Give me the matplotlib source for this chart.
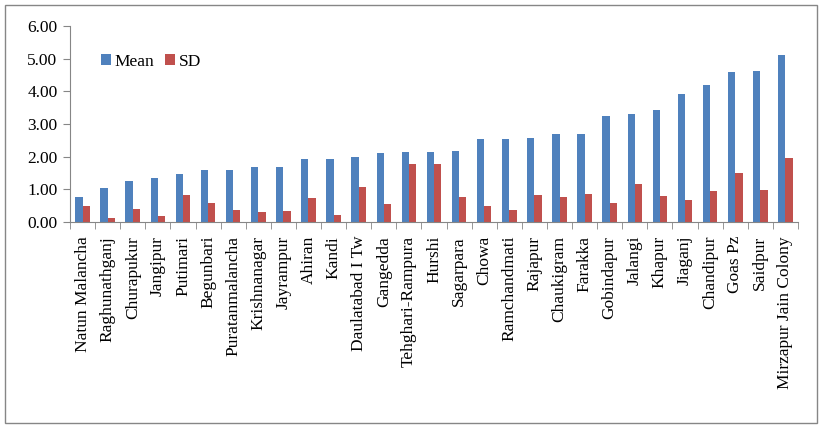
import matplotlib
matplotlib.use("Agg")
import matplotlib.pyplot as plt
import matplotlib.patches as patches
import numpy as np

plt.rcParams["font.family"] = ["Liberation Serif", "DejaVu Serif"]

places = [
    "Natun Malancha", "Raghunathganj", "Churapukur", "Jangipur", "Putimari",
    "Begunbari", "Puratanmalancha", "Krishnanagar", "Jayrampur", "Ahiran",
    "Kandi", "Daulatabad I Tw", "Gangedda", "Tehghari-Rampura", "Hurshi",
    "Sagarpara", "Chowa", "Ramchandmati", "Rajapur", "Chaukigram",
    "Farakka", "Gobindapur", "Jalangi", "Khapur", "Jiaganj",
    "Chandipur", "Goas Pz", "Saidpur", "Mirzapur Jain Colony",
]
mean_vals = [
    0.77, 1.04, 1.26, 1.35, 1.47, 1.59, 1.59, 1.68, 1.68, 1.93,
    1.93, 1.99, 2.11, 2.14, 2.14, 2.17, 2.54, 2.54, 2.57, 2.69,
    2.69, 3.24, 3.31, 3.43, 3.92, 4.19, 4.59, 4.62, 5.11,
]
sd_vals = [
    0.49, 0.12, 0.40, 0.18, 0.83, 0.58, 0.37, 0.31, 0.34, 0.73,
    0.21, 1.07, 0.55, 1.78, 1.78, 0.77, 0.49, 0.37, 0.83, 0.77,
    0.86, 0.58, 1.16, 0.80, 0.67, 0.95, 1.50, 0.98, 1.96,
]
y_ticks = [0, 1, 2, 3, 4, 5, 6]

W, H = 823, 430
fig = plt.figure(figsize=(W / 100, H / 100), dpi=100)
ax = fig.add_axes([70 / W, 1 - 222 / H, (798 - 70) / W, (222 - 26) / H])

grey = "#868686"
fs = 12.5
x = np.arange(len(places))
bw = 0.29
ax.bar(x - bw / 2, mean_vals, bw, color="#4F81BD", label="Mean")
ax.bar(x + bw / 2, sd_vals, bw, color="#C0504D", label="SD")

ax.set_xlim(-0.5, len(places) - 0.5)
ax.set_ylim(0, 6)
ax.set_yticks(y_ticks)
ax.set_yticklabels([f"{v:.2f}" for v in y_ticks], fontsize=fs)
ax.set_xticks(x)
ax.set_xticklabels(places, rotation=90, fontsize=fs, va="top", ha="center")
ax.set_xticks(np.arange(len(places) + 1) - 0.5, minor=True)
ax.tick_params(axis="x", which="major", length=0, pad=10)
ax.tick_params(axis="x", which="minor", length=5, color=grey, direction="out")
ax.tick_params(axis="y", length=5, color=grey, direction="out", pad=4)

for s in ["top", "right"]:
    ax.spines[s].set_visible(False)
for s in ["left", "bottom"]:
    ax.spines[s].set_color(grey)

ax.legend(loc="upper left", bbox_to_anchor=(0.033, 0.895), ncol=2, frameon=False,
          fontsize=fs, handlelength=0.55, handleheight=0.55, handletextpad=0.25,
          columnspacing=0.6, borderaxespad=0)

border = patches.Rectangle((5 / W, 7 / H), 812 / W, 418 / H, transform=fig.transFigure,
                           fill=False, edgecolor=grey, linewidth=1)
fig.patches.append(border)

fig.savefig("out.png", dpi=100)
